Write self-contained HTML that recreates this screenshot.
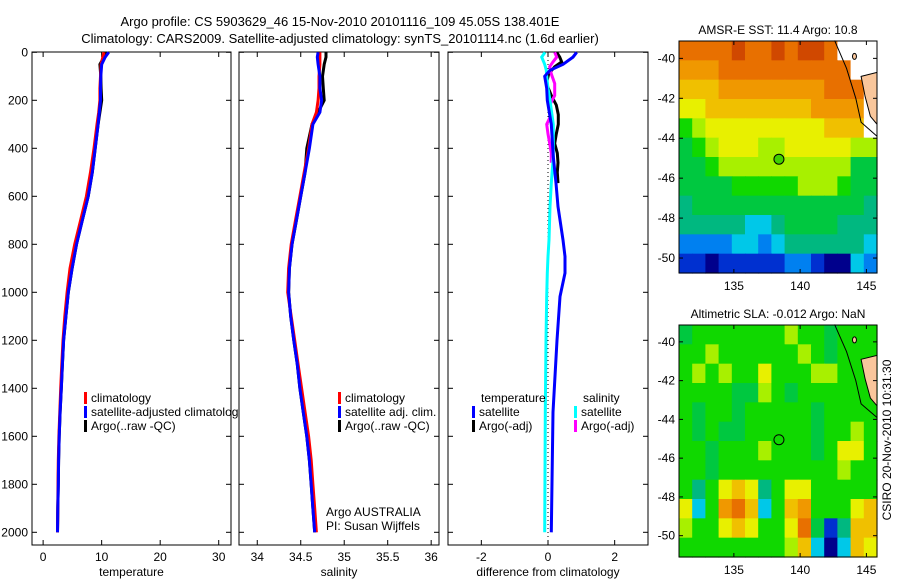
<!DOCTYPE html>
<html><head><meta charset="utf-8"><style>
html,body{margin:0;padding:0;background:#fff;}
svg{display:block;font-family:"Liberation Sans",sans-serif;}
</style></head><body>
<svg id="fig" width="900" height="580" viewBox="0 0 900 580" xmlns="http://www.w3.org/2000/svg">
<text x="340" y="26" font-size="13" text-anchor="middle">Argo profile: CS 5903629_46 15-Nov-2010 20101116_109 45.05S 138.401E</text>
<text x="340" y="43" font-size="13" text-anchor="middle">Climatology: CARS2009. Satellite-adjusted climatology: synTS_20101114.nc (1.6d earlier)</text>
<defs><clipPath id="c1"><rect x="0" y="0" width="239" height="580"/></clipPath></defs>
<g id="plots"></g>
<text transform="translate(891,440) rotate(-90)" font-size="12" text-anchor="middle">CSIRO 20-Nov-2010 10:31:30</text>
</svg>
<script>
// ---- profile data ----
const depths = [0,20,50,100,150,200,250,300,400,500,600,700,800,900,1000,1100,1200,1300,1400,1500,1600,1700,1800,1900,2000];
const tempClim = [10.4,10.2,9.9,9.8,9.7,9.7,9.5,9.2,8.7,8.1,7.4,6.4,5.4,4.6,4.1,3.7,3.4,3.2,3.0,2.85,2.7,2.6,2.55,2.5,2.45];
const tempSat  = [11.2,10.6,10.0,9.85,9.8,9.8,9.6,9.4,8.9,8.4,7.7,6.7,5.7,4.95,4.3,3.9,3.5,3.3,3.1,2.9,2.75,2.65,2.6,2.5,2.45];
const tempArgo = [10.7,10.4,9.7,9.85,9.9,10.0,9.7,9.4,8.9,8.4,7.7,6.7,5.7,4.95,4.3,3.9,3.5,3.3,3.1,2.9,2.75,2.65,2.6,2.5,2.45];
const salClim = [34.72,34.72,34.72,34.71,34.71,34.70,34.68,34.63,34.59,34.54,34.49,34.44,34.39,34.36,34.35,34.39,34.43,34.47,34.51,34.55,34.59,34.62,34.64,34.66,34.68];
const salSat  = [34.70,34.69,34.70,34.72,34.72,34.74,34.72,34.64,34.60,34.55,34.50,34.45,34.40,34.37,34.36,34.385,34.42,34.46,34.49,34.53,34.57,34.60,34.62,34.64,34.66];
const salArgo = [34.79,34.79,34.77,34.75,34.76,34.77,34.70,34.63,34.57,34.55,34.50,34.45,34.40,34.37,34.36,34.385,34.42,34.46,34.49,34.53,34.57,34.60,34.62,34.64,34.66];
const diffDepth = [0,20,50,75,100,150,200,300,435,545,643,782,851,920,1018,1200,1500,2000];
const diffTSat = [0.86,0.75,0.45,0.06,-0.1,-0.04,-0.02,0.1,0.16,0.24,0.3,0.45,0.51,0.51,0.36,0.27,0.15,0.1];
const diffSSat = [-0.09,-0.19,-0.1,-0.05,-0.04,0.0,0.06,0.16,0.16,0.1,0.06,0.03,0.0,-0.02,-0.04,-0.06,-0.08,-0.1];
const argoDepth = [0,20,40,60,90,130,180,220,260,300,340,380,420,460,500,545];
const diffTArgo = [0.26,0.35,0.41,0.2,0.02,-0.05,0.1,0.25,0.31,0.31,0.25,0.2,0.28,0.3,0.28,0.3];
const diffSArgo = [0.2,0.26,0.15,0.05,0.1,0.2,0.2,0.05,0.1,-0.04,0.0,0.05,0.1,0.1];
const depthTicks = [0,200,400,600,800,1000,1200,1400,1600,1800,2000];
const tempTicks = [0,10,20,30];
const salTicks = [34,34.5,35,35.5,36];
const salTickLabels = ["34","34.5","35","35.5","36"];
const diffTicks = [-2,0,2];
// ---- map data (level indices, -1 = land/no data) ----
const sstGrid = [
[11,11,11,11,12,11,11,12,11,12,12,11,-1,-1,-1],
[10,10,10,11,11,11,11,11,11,11,11,11,11,-1,-1],
[9,9,9,10,10,10,10,10,10,10,10,11,11,11,-1],
[8,8,9,9,9,9,9,9,9,9,10,10,10,10,-1],
[6,7,8,8,8,8,8,8,8,8,8,9,9,9,-1],
[5,6,7,8,8,8,7,7,8,8,8,8,8,7,7],
[5,5,6,7,7,7,7,7,7,7,7,7,7,5,5],
[5,5,5,5,6,6,6,6,6,7,7,7,6,5,5],
[4,5,5,5,5,5,5,5,5,5,5,5,5,5,4],
[4,4,4,4,4,3,3,4,5,5,5,5,4,4,4],
[2,2,2,2,3,3,2,3,4,4,4,4,4,4,3],
[1,1,0,1,1,1,1,1,2,2,1,0,0,3,2]];
const slaGrid = [
[5,6,6,6,6,6,6,6,7,6,6,5,6,6,6],
[6,6,7,6,6,6,6,6,6,7,6,5,6,6,6],
[6,7,6,7,6,6,8,6,6,6,7,7,6,6,6],
[6,6,6,6,5,5,7,6,5,6,6,6,6,6,6],
[6,5,6,6,5,6,6,6,6,6,5,6,6,6,6],
[6,5,6,5,5,6,6,6,6,6,5,6,6,7,6],
[6,6,5,6,6,6,7,6,6,6,5,6,8,8,6],
[6,6,5,6,6,6,6,6,6,6,6,6,7,6,6],
[6,4,6,8,9,8,4,6,8,8,6,6,6,6,6],
[8,3,6,10,11,9,3,6,9,10,6,6,6,8,9],
[7,6,6,8,9,8,6,6,8,11,5,1,4,9,9],
[6,6,6,6,6,6,6,6,7,9,3,0,3,9,8]];
const lonTicks = [135,140,145];
const latTicks = [-40,-42,-44,-46,-48,-50];
const argoLon = 138.401, argoLat = -45.05;

const palette = ["#00008c","#0030d0","#0080f0","#00c8e8","#00b880","#00c840","#10d800","#a8f000","#e8f000","#f0c000","#f09800","#e87000","#d04800"];
const NS = "http://www.w3.org/2000/svg";
const root = document.getElementById('plots');
function el(tag, attrs, parent){ const e=document.createElementNS(NS,tag); for(const k in attrs) e.setAttribute(k,attrs[k]); (parent||root).appendChild(e); return e; }
function txt(x,y,s,anchor,size,parent){ const t=el('text',{x:x,y:y,'font-size':size||12,'text-anchor':anchor||'start'},parent); t.textContent=s; return t; }

const yTop=52, yBot=545;
const yScale = d => 52.3 + d*0.24;

function panel(name,x0,x1,dom,ticks,labels,xlabel,showY){
  const xs = v => x0 + (v-dom[0])/(dom[1]-dom[0])*(x1-x0);
  const g = el('g',{});
  
  
  el('rect',{x:x0,y:yTop,width:x1-x0,height:yBot-yTop,fill:'#fff',stroke:'#000','stroke-width':1},g);
  ticks.forEach((t,i)=>{
    const x=xs(t);
    el('line',{x1:x,x2:x,y1:yBot,y2:yBot-5,stroke:'#000'},g);
    el('line',{x1:x,x2:x,y1:yTop,y2:yTop+5,stroke:'#000'},g);
    const l=txt(x,561,labels[i],'middle',12,g);
    
    
  });
  depthTicks.forEach(d=>{
    const y=yScale(d);
    el('line',{x1:x0,x2:x0+5,y1:y,y2:y,stroke:'#000'},g);
    el('line',{x1:x1,x2:x1-5,y1:y,y2:y,stroke:'#000'},g);
    if(showY){ const l=txt(x0-4,y+4,String(d),'end',12,g);
      
       }
  });
  const xl=txt((x0+x1)/2,576,xlabel,'middle',12,g);
  
  
  return {xs,g};
}
function line(p,vals,deps,color,name,w){
  const pts=vals.map((v,i)=>p.xs(v).toFixed(1)+','+yScale(deps[i]).toFixed(1)).join(' ');
  const pl=el('polyline',{points:pts,fill:'none',stroke:color,'stroke-width':w||3},p.g);
  
  
}
function legend(g,x,y,color,label){
  el('rect',{x:x,y:y-10,width:3,height:12,fill:color},g);
  const t=txt(x+7,y,label,'start',12,g);
  
  
}

const p1=panel('temperature',32,231,[-1.9,32.1],tempTicks,tempTicks.map(String),'temperature',true);
line(p1,tempArgo,depths,'#000','argo-temperature-line');
line(p1,tempClim,depths,'#f00','climatology-temperature-line');
line(p1,tempSat,depths,'#00f','satellite-temperature-line');
const lg1=el('g',{'clip-path':'url(#c1)'},p1.g);
legend(lg1,84,402,'#f00','climatology');
legend(lg1,84,416,'#00f','satellite-adjusted climatology');
legend(lg1,84,430,'#000','Argo(..raw -QC)');

const p2=panel('salinity',239,439,[33.79,36.09],salTicks,salTickLabels,'salinity',false);
line(p2,salArgo,depths,'#000','argo-salinity-line');
line(p2,salClim,depths,'#f00','climatology-salinity-line');
line(p2,salSat,depths,'#00f','satellite-salinity-line');
legend(p2.g,338,402,'#f00','climatology');
legend(p2.g,338,416,'#00f','satellite adj. clim.');
legend(p2.g,338,430,'#000','Argo(..raw -QC)');
txt(326,516,'Argo AUSTRALIA','start',12,p2.g);
txt(326,530,'PI: Susan Wijffels','start',12,p2.g);

const p3=panel('difference',448,648,[-3,3],diffTicks,diffTicks.map(String),'difference from climatology',false);
el('line',{x1:p3.xs(0),x2:p3.xs(0),y1:yTop,y2:yBot,stroke:'#000','stroke-dasharray':'1,3'},p3.g);
line(p3,diffTArgo,argoDepth,'#000','argo-temperature-diff-line');
line(p3,diffSArgo,argoDepth.slice(0,diffSArgo.length),'#f0f','argo-salinity-diff-line');
line(p3,diffSSat,diffDepth,'#0ff','satellite-salinity-diff-line');
line(p3,diffTSat,diffDepth,'#00f','satellite-temperature-diff-line');
txt(481,402,'temperature','start',12,p3.g);
txt(583,402,'salinity','start',12,p3.g);
legend(p3.g,472,416,'#00f','satellite');
legend(p3.g,472,430,'#000','Argo(-adj)');
legend(p3.g,574,416,'#0ff','satellite');
legend(p3.g,574,430,'#f0f','Argo(-adj)');

// ---- maps ----
function map(name,grid,top,bot,latTop,latBot,title,filledCircle){
  const x0=679,x1=877,lonL=130.86,lonR=145.8;
  const xs=v=>x0+(v-lonL)/(lonR-lonL)*(x1-x0);
  const ys=v=>top+(latTop-v)/(latTop-latBot)*(bot-top);
  const g=el('g',{});
  
  
  const rows=grid.length, cols=grid[0].length;
  const cw=(x1-x0)/cols, ch=(bot-top)/rows;
  grid.forEach((r,i)=>r.forEach((v,j)=>{
    const c=el('rect',{x:(x0+j*cw).toFixed(2),y:(top+i*ch).toFixed(2),width:(cw+0.6).toFixed(2),height:(ch+0.6).toFixed(2),fill:v<0?'#fff':palette[v]},g);
    
    
  }));
  const land=el('path',{d:`M${xs(144.6)},${ys(-40.9)} L${xs(145.8)},${ys(-40.7)} L${xs(145.8)},${ys(-43.3)} L${xs(145.3)},${ys(-42.9)} L${xs(144.9)},${ys(-41.9)} Z`,fill:'#f9c69b',stroke:'#000','stroke-width':1},g);
  
  el('path',{d:`M${xs(142.6)},${ys(-39.1)} L${xs(143.5)},${ys(-40.5)} L${xs(144.2)},${ys(-42)} L${xs(144.6)},${ys(-43.2)} L${xs(145.8)},${ys(-43.9)}`,fill:'none',stroke:'#000','stroke-width':1},g);
  el('ellipse',{cx:xs(144.1),cy:ys(-39.9),rx:2,ry:3,fill:'#f9c69b',stroke:'#000'},g);
  el('rect',{x:x0,y:top,width:x1-x0,height:bot-top,fill:'none',stroke:'#000'},g);
  lonTicks.forEach(t=>{const x=xs(t);
    el('line',{x1:x,x2:x,y1:bot,y2:bot-4,stroke:'#000'},g);
    el('line',{x1:x,x2:x,y1:top,y2:top+4,stroke:'#000'},g);
    txt(x,bot+17,String(t),'middle',12,g);});
  latTicks.forEach(t=>{const y=ys(t);
    el('line',{x1:x0,x2:x0+4,y1:y,y2:y,stroke:'#000'},g);
    el('line',{x1:x1,x2:x1-4,y1:y,y2:y,stroke:'#000'},g);
    txt(x0-4,y+4,String(t),'end',12,g);});
  const tt=txt((x0+x1)/2,top-7,title,'middle',12,g);
  
  
  const c=el('circle',{cx:xs(argoLon),cy:ys(argoLat),r:5,fill:filledCircle?'#40d000':'none',stroke:'#000','stroke-width':1},g);
  
  
}
map('sst',sstGrid,41,273,-39.13,-50.75,'AMSR-E SST: 11.4 Argo: 10.8',true);
map('sla',slaGrid,325,557,-39.13,-51.1,'Altimetric SLA: -0.012 Argo: NaN',false);
</script>
</body></html>
